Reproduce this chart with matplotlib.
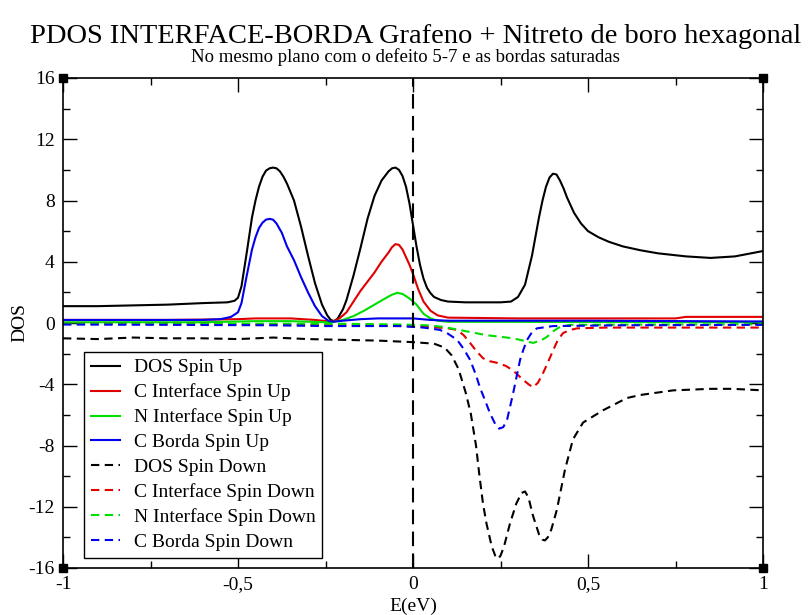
import matplotlib
matplotlib.use("Agg")
import matplotlib.pyplot as plt
import numpy as np
from matplotlib.ticker import MultipleLocator

plt.rcParams["font.family"] = ["Liberation Serif", "DejaVu Serif"]

# ---- data (E in eV, DOS) ----
e_dos_up = [-1.0, -0.9, -0.8, -0.7, -0.6, -0.53, -0.51, -0.50, -0.49, -0.475, -0.46, -0.45, -0.44,
            -0.43, -0.42, -0.41, -0.40, -0.39, -0.38, -0.37, -0.36, -0.34, -0.32, -0.30, -0.28,
            -0.26, -0.245, -0.235, -0.225, -0.215, -0.20, -0.19, -0.17, -0.15, -0.13, -0.11, -0.09,
            -0.07, -0.06, -0.05, -0.04, -0.03, -0.02, -0.01, 0.0, 0.01, 0.02, 0.03, 0.04, 0.05,
            0.06, 0.08, 0.10, 0.15, 0.20, 0.25, 0.28, 0.30, 0.32, 0.34, 0.36, 0.37, 0.38, 0.39,
            0.40, 0.41, 0.42, 0.43, 0.44, 0.46, 0.48, 0.50, 0.53, 0.56, 0.60, 0.65, 0.70, 0.78,
            0.85, 0.92, 1.0]
dos_up = [1.1, 1.1, 1.15, 1.2, 1.3, 1.35, 1.45, 1.65, 2.4, 4.6, 6.9, 8.0, 8.9,
          9.55, 9.95, 10.1, 10.15, 10.1, 9.9, 9.55, 9.1, 8.0, 6.3, 4.4, 2.6,
          1.2, 0.5, 0.2, 0.12, 0.3, 0.9, 1.5, 3.1, 4.9, 6.8, 8.3, 9.3,
          9.9, 10.1, 10.15, 10.0, 9.6, 8.9, 7.8, 6.4, 5.0, 3.8, 2.9, 2.3, 1.95,
          1.7, 1.5, 1.4, 1.35, 1.35, 1.35, 1.4, 1.7, 2.5, 4.4, 6.9, 8.0, 8.9, 9.5,
          9.75, 9.7, 9.3, 8.8, 8.2, 7.2, 6.5, 6.0, 5.6, 5.3, 5.0, 4.75, 4.55, 4.35,
          4.25, 4.35, 4.7]

e_ci_up = [-1.0, -0.7, -0.5, -0.45, -0.35, -0.28, -0.23, -0.21, -0.19, -0.17, -0.15, -0.13, -0.11,
           -0.09, -0.07, -0.06, -0.05, -0.04, -0.03, -0.02, -0.01, 0.0, 0.015, 0.03, 0.05, 0.07,
           0.10, 0.3, 0.75, 0.78, 1.0]
ci_up = [0.2, 0.2, 0.25, 0.3, 0.3, 0.2, 0.08, 0.3, 0.7, 1.4, 2.1, 2.7, 3.3,
         4.0, 4.6, 4.95, 5.15, 5.1, 4.8, 4.3, 3.8, 3.2, 2.2, 1.4, 0.8, 0.5,
         0.35, 0.3, 0.3, 0.4, 0.4]

e_ni_up = [-1.0, -0.6, -0.45, -0.35, -0.25, -0.23, -0.20, -0.17, -0.14, -0.11, -0.08, -0.06,
           -0.045, -0.03, -0.01, 0.01, 0.03, 0.05, 0.07, 0.1, 1.0]
ni_up = [0.05, 0.05, 0.12, 0.12, 0.05, 0.05, 0.2, 0.45, 0.8, 1.2, 1.6, 1.85,
         1.97, 1.9, 1.6, 1.2, 0.6, 0.3, 0.15, 0.08, 0.05]

e_cb_up = [-1.0, -0.8, -0.6, -0.55, -0.52, -0.50, -0.49, -0.475, -0.46, -0.45, -0.44, -0.43, -0.42,
           -0.41, -0.40, -0.39, -0.375, -0.36, -0.34, -0.32, -0.30, -0.28, -0.26, -0.24, -0.23,
           -0.20, -0.15, -0.10, 0.0, 0.05, 0.1, 0.5, 1.0]
cb_up = [0.2, 0.2, 0.2, 0.25, 0.4, 0.7, 1.3, 3.1, 4.8, 5.6, 6.2, 6.55, 6.75,
         6.8, 6.75, 6.5, 5.9, 5.0, 4.1, 3.0, 2.0, 1.1, 0.45, 0.12, 0.08,
         0.15, 0.25, 0.3, 0.3, 0.2, 0.15, 0.15, 0.1]

e_dos_dn = [-1.0, -0.9, -0.8, -0.7, -0.6, -0.5, -0.4, -0.3, -0.2, -0.1, 0.0, 0.06, 0.09, 0.11,
            0.13, 0.15, 0.165, 0.18, 0.19, 0.20, 0.21, 0.225, 0.235, 0.243, 0.25, 0.26, 0.277,
            0.295, 0.31, 0.32, 0.33, 0.343, 0.36, 0.37, 0.377, 0.385, 0.395, 0.411, 0.434, 0.457,
            0.486, 0.543, 0.611, 0.65, 0.743, 0.85, 0.914, 1.0]
dos_dn = [-1.0, -1.05, -0.95, -1.0, -1.0, -1.05, -0.95, -1.05, -1.1, -1.15, -1.25, -1.35, -1.6, -2.1,
          -3.0, -4.5, -5.9, -8.0, -10.0, -11.8, -13.1, -14.6, -15.2, -15.4, -15.2, -14.6, -13.1,
          -11.8, -11.1, -11.0, -11.4, -12.6, -13.8, -14.15, -14.2, -14.0, -13.5, -12.2, -9.6, -7.6,
          -6.5, -5.7, -4.9, -4.7, -4.4, -4.3, -4.3, -4.4]

e_ci_dn = [-1.0, -0.6, -0.4, -0.2, -0.037, 0.05, 0.10, 0.126, 0.145, 0.163, 0.18, 0.2, 0.22, 0.24,
           0.265, 0.286, 0.30, 0.314, 0.33, 0.343, 0.357, 0.371, 0.385, 0.4, 0.414, 0.429, 0.45,
           0.469, 0.55, 1.0]
ci_dn = [-0.05, -0.05, -0.1, -0.15, -0.2, -0.25, -0.35, -0.45, -0.8, -1.3, -1.8, -2.3, -2.5, -2.6,
         -2.8, -3.1, -3.4, -3.7, -4.0, -4.2, -3.9, -3.3, -2.6, -1.8, -1.1, -0.65, -0.45,
         -0.35, -0.3, -0.3]

e_ni_dn = [-1.0, -0.5, -0.2, -0.037, 0.04, 0.086, 0.12, 0.154, 0.211, 0.25, 0.286, 0.315, 0.343,
           0.365, 0.383, 0.40, 0.42, 0.45, 1.0]
ni_dn = [-0.05, -0.05, -0.05, -0.1, -0.15, -0.25, -0.4, -0.55, -0.8, -0.9, -1.0, -1.15, -1.3,
         -1.15, -0.9, -0.55, -0.25, -0.12, -0.08]

e_cb_dn = [-1.0, -0.7, -0.4, -0.25, -0.1, -0.037, 0.03, 0.077, 0.10, 0.126, 0.145, 0.163, 0.18,
           0.191, 0.205, 0.22, 0.235, 0.246, 0.258, 0.269, 0.286, 0.296, 0.306, 0.316, 0.326,
           0.34, 0.354, 0.4, 0.6, 1.0]
cb_dn = [-0.1, -0.12, -0.15, -0.2, -0.2, -0.2, -0.3, -0.45, -0.7, -1.1, -1.7, -2.4, -3.4,
         -4.2, -5.0, -5.9, -6.6, -6.9, -6.8, -6.3, -4.6, -3.5, -2.4, -1.7, -1.1,
         -0.6, -0.35, -0.2, -0.15, -0.12]

RED = "#e00000"
GREEN = "#00dd00"
BLUE = "#0000ee"
dash = (0, (4, 2.6))

fig = plt.figure(figsize=(8.11, 6.15), dpi=100)
ax = fig.add_axes([63 / 811, 47 / 615, 700 / 811, 490 / 615])

lw = 1.5
ax.plot(e_dos_up, dos_up, color="black", lw=lw, label="DOS Spin Up")
ax.plot(e_ci_up, ci_up, color=RED, lw=lw, label="C Interface Spin Up")
ax.plot(e_ni_up, ni_up, color=GREEN, lw=lw, label="N Interface Spin Up")
ax.plot(e_cb_up, cb_up, color=BLUE, lw=lw, label="C Borda Spin Up")
ax.plot(e_dos_dn, dos_dn, color="black", lw=lw, ls=dash, label="DOS Spin Down")
ax.plot(e_ci_dn, ci_dn, color=RED, lw=lw, ls=dash, label="C Interface Spin Down")
ax.plot(e_ni_dn, ni_dn, color=GREEN, lw=lw, ls=dash, label="N Interface Spin Down")
ax.plot(e_cb_dn, cb_dn, color=BLUE, lw=lw, ls=dash, label="C Borda Spin Down")

ax.axvline(0, color="black", lw=1.5, ls=(0, (7, 3.5)))

ax.set_xlim(-1, 1)
ax.set_ylim(-16, 16)
ax.set_xticks([-1, -0.5, 0, 0.5, 1], ["-1", "-0,5", "0", "0,5", "1"])
ax.set_yticks(np.arange(-16, 17, 4), [str(v) for v in range(-16, 17, 4)])
ax.xaxis.set_minor_locator(MultipleLocator(0.25))
ax.yaxis.set_minor_locator(MultipleLocator(2))
ax.tick_params(which="both", direction="in", top=True, right=True, labelsize=14, width=1)
ax.tick_params(which="major", length=10, pad=6)
ax.tick_params(which="minor", length=5)
for s in ax.spines.values():
    s.set_linewidth(1.2)

# corner squares like xmgrace
ax.plot([0, 1, 0, 1], [0, 0, 1, 1], "s", color="black", ms=6,
        transform=ax.transAxes, clip_on=False)

ax.set_xlabel("E(eV)", fontsize=14, labelpad=3)
ax.set_ylabel("DOS", fontsize=14, labelpad=0)

leg = ax.legend(loc="upper left", bbox_to_anchor=(0.03, 0.441), borderaxespad=0,
                fontsize=14, handlelength=1.5, handletextpad=0.7, labelspacing=0.37,
                borderpad=0.35, fancybox=False, framealpha=1)
leg.get_frame().set_edgecolor("black")
leg.get_frame().set_linewidth(1.0)

fig.text(0.513, 0.941, "PDOS INTERFACE-BORDA Grafeno + Nitreto de boro hexagonal",
         ha="center", va="center", fontsize=20.5)
fig.text(0.5, 0.907, "No mesmo plano com o defeito 5-7 e as bordas saturadas",
         ha="center", va="center", fontsize=13.5)

fig.savefig("out.png", dpi=100)
